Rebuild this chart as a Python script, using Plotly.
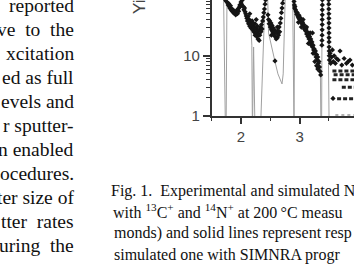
import plotly.graph_objects as go

W, H = 354, 265

# ---------------- data ----------------
exp_energy = [
    1.60, 1.66, 1.70, 1.73, 1.75, 1.77, 1.78, 1.79, 1.80, 1.81, 1.82, 1.83, 1.84, 1.85, 1.86,
    1.87, 1.88, 1.89, 1.90, 1.91, 1.92, 1.93, 1.94, 1.95, 1.96, 1.97, 1.98, 1.99, 2.00, 2.01,
    2.02, 2.04, 2.05, 2.06, 2.07, 2.08, 2.09,
    2.10, 2.11, 2.12, 2.13, 2.14, 2.15, 2.16, 2.17, 2.18, 2.19, 2.20, 2.21, 2.22, 2.23, 2.24,
    2.25, 2.26, 2.27, 2.28, 2.29, 2.30, 2.31, 2.32, 2.33, 2.34, 2.35, 2.36, 2.37, 2.38, 2.39,
    2.40, 2.41, 2.42, 2.15, 2.20, 2.24, 2.28, 2.31, 2.26,
    2.46, 2.47, 2.48, 2.49, 2.50, 2.51, 2.52, 2.53, 2.54, 2.55, 2.56, 2.57, 2.58, 2.59, 2.60,
    2.61, 2.62, 2.63, 2.64, 2.65, 2.66, 2.67, 2.68, 2.69, 2.70, 2.71, 2.72, 2.58, 2.52, 2.62,
    2.90, 2.905, 2.91, 2.915, 2.92, 2.93, 2.94, 2.95, 2.96, 2.97, 2.98, 2.99, 3.00, 3.01, 3.02,
    3.03, 3.04, 3.05, 3.06, 3.07, 3.08, 3.09, 3.10, 3.11, 3.12, 3.13, 3.14, 3.15, 3.16, 3.17,
    3.18, 3.19, 3.20, 3.21, 3.22, 3.23, 3.24, 3.25, 3.26, 3.27, 3.28, 3.29, 3.30, 3.31, 3.32,
    3.33, 3.34, 3.35, 3.36, 2.98, 3.03, 3.06, 3.12, 3.15, 3.18, 3.22, 3.23, 3.26, 3.29, 3.31,
    3.380, 3.382, 3.384, 3.385, 3.386, 3.386, 3.387, 3.387, 3.388, 3.388,
    3.497, 3.498, 3.499, 3.500, 3.500, 3.501, 3.501, 3.502, 3.502, 3.503, 3.504, 3.505, 3.506, 3.508,
    3.52, 3.53, 3.545, 3.56, 3.575, 3.59, 3.61, 3.63, 3.66, 3.69, 3.72, 3.76, 3.80, 3.83, 3.86, 3.90,
    3.57,
]
exp_yield = [
    110, 100, 92, 86, 80, 76, 70, 74, 66, 62, 68, 58, 61, 55, 58,
    52, 56, 50, 54, 48, 52, 57, 50, 60, 55, 64, 70, 66, 78, 72,
    84, 66, 58, 62, 54, 50, 46,
    42, 38, 45, 34, 40, 31, 36, 29, 33, 38, 27, 31, 25, 29, 34,
    24, 28, 21, 26, 19, 23, 27, 22, 30, 25, 33, 28, 38, 44, 52,
    60, 72, 85, 50, 35, 22, 31, 18, 40,
    48, 40, 34, 38, 30, 35, 27, 32, 25, 29, 23, 27, 21, 25, 19,
    24, 20, 26, 22, 30, 25, 35, 42, 52, 62, 75, 88, 8.2, 22, 30,
    95, 80, 70, 62, 66, 58, 54, 49, 52, 46, 43, 47, 40, 43, 37,
    39, 34, 36, 31, 33, 28, 30, 26, 28, 23, 25, 21, 23, 19, 21,
    17, 19, 15, 17, 14, 15, 12.5, 13, 11, 12, 9.5, 10.5, 8.5, 9.5, 7.5,
    8, 6.5, 5.5, 4.8, 36, 30, 40, 30, 16, 24, 24, 11, 8, 6.8, 6,
    15, 18, 22, 27, 33, 40, 48, 58, 70, 85,
    85, 72, 60, 50, 42, 35, 29, 24, 20, 17, 14, 12, 10, 8.5,
    11, 7.5, 9.5, 12.5, 8, 10, 7.5, 9, 8.5, 12, 7, 9, 7.5, 8, 8.5, 7,
    1.95,
]

sim_energy = [1.50, 1.70, 1.735, 1.745, 1.76, 1.80, 1.88, 1.95, 2.00, 2.03, 2.07, 2.12, 2.17,
              2.185, 2.195, 2.215, 2.24, 2.33, 2.41, 2.44, 2.45, 2.47, 2.52, 2.58, 2.63, 2.68,
              2.70, 2.72, 2.74, 2.76, 2.88, 2.895, 2.905, 2.915, 2.95, 3.00, 3.10, 3.20, 3.30,
              3.355, 3.365, 3.375, 3.385, 3.48, 3.505, 3.95]
sim_yield = [150, 150, 0.5, 0.5, 80, 66, 53, 55, 75, 70, 52, 36, 30,
             15, 0.5, 14, 0.5, 0.5, 90, 150, 150, 24, 14, 8, 5, 3.6,
             3.4, 5, 20, 150, 150, 0.5, 0.5, 70, 50, 40, 25, 16, 9,
             5, 0.5, 0.5, 150, 150, 0.5, 0.5]

row_yield = [5.6, 4.85, 4.0, 3.0, 1.92]
row_start = [3.56, 3.58, 3.56, 3.72, 3.64]
row_end = 3.95
base_row_yield = 1.03
base_row_start = 3.61

x_tick_vals = [2, 3]
x_tick_text = ["2", "3"]
x_minor_vals = [1.5, 2.5, 3.5]
y_tick_vals = [1, 10]
y_tick_text = ["1", "10"]
y_minor_vals = [2, 3, 4, 5, 6, 7, 8, 9, 20, 30, 40, 50, 60, 70, 80, 90]
y_title = "Yield"
y_top_label = "100"

EN = "\u2002"
body_lines = ["reported", "ve" + EN + "to" + EN + "the", "xcitation", "ed as full", "evels and",
              "r sputter-", "n enabled", "ocedures.", "ter size of", "tter" + EN + "rates",
              "uring" + EN + "the"]
caption_lines = [
    "Fig. 1.\u00a0 Experimental and simulated N",
    "with <sup>13</sup>C<sup>+</sup> and <sup>14</sup>N<sup>+</sup> at 200\u2009°C measu",
    "monds) and solid lines represent resp",
    "simulated one with SIMNRA progr",
]

# ---------------- layout geometry (pixels) ----------------
ax_left_px = 211.7
ax_bottom_px = 119.5
px_per_unit = 58.6
px_per_decade = 62.0
x0 = 1.5
x1 = x0 + (W - ax_left_px) / px_per_unit
ytop_log = ax_bottom_px / px_per_decade


def pxx(px):
    return px / W


def pxy(py):
    return 1 - py / H


fig = go.Figure()

fig.add_trace(go.Scatter(x=sim_energy, y=sim_yield, mode="lines",
                         line=dict(color="#a0a0a0", width=1), hoverinfo="skip"))

for ry, rs in zip(row_yield, row_start):
    fig.add_trace(go.Scatter(x=[rs, row_end], y=[ry, ry], mode="lines",
                             line=dict(color="#222222", width=3, dash="4px,2px"), hoverinfo="skip"))
fig.add_trace(go.Scatter(x=[base_row_start, row_end], y=[base_row_yield, base_row_yield], mode="lines",
                         line=dict(color="#999999", width=1.5, dash="dot"), hoverinfo="skip"))

fig.add_trace(go.Scatter(x=exp_energy, y=exp_yield, mode="markers",
                         marker=dict(symbol="diamond", size=4, color="#151515", line=dict(width=0))))

axis_font = dict(family="Liberation Sans, Arial, sans-serif", size=15, color="#444444")

fig.update_layout(
    width=W, height=H, margin=dict(l=0, r=0, t=0, b=0),
    paper_bgcolor="white", plot_bgcolor="white", showlegend=False,
    xaxis=dict(domain=[pxx(ax_left_px), 1], range=[x0, x1], showgrid=False, zeroline=False,
               showline=True, linecolor="#333333", linewidth=1.5,
               tickmode="array", tickvals=x_tick_vals, ticktext=x_tick_text,
               ticks="outside", ticklen=6, tickwidth=1.5, tickcolor="#333333",
               tickfont=axis_font,
               minor=dict(tickmode="array", tickvals=x_minor_vals, ticks="outside",
                          ticklen=3, tickwidth=1.2, tickcolor="#333333")),
    yaxis=dict(domain=[pxy(ax_bottom_px), 1], type="log", range=[0, ytop_log],
               showgrid=False, zeroline=False,
               showline=True, linecolor="#333333", linewidth=1.5,
               tickmode="array", tickvals=y_tick_vals, ticktext=y_tick_text,
               ticks="outside", ticklen=7, tickwidth=1.5, tickcolor="#333333",
               tickfont=axis_font,
               minor=dict(tickmode="array", tickvals=y_minor_vals, ticks="outside",
                          ticklen=4, tickwidth=1, tickcolor="#333333")),
)

anns = []
anns.append(dict(text=y_title, xref="paper", yref="paper", x=pxx(140), y=pxy(17),
                 xanchor="center", yanchor="bottom", textangle=-90, showarrow=False,
                 font=dict(family="Liberation Sans, Arial, sans-serif", size=17, color="#444444")))
anns.append(dict(text=y_top_label, xref="paper", yref="paper", x=pxx(202), y=pxy(-6),
                 xanchor="right", yanchor="middle", showarrow=False, font=axis_font))

serif = "Liberation Serif, Times New Roman, serif"
bs = 19.5
for i, t in enumerate(body_lines):
    base = 13.5 + 24.75 * i
    anns.append(dict(text=t, xref="paper", yref="paper", x=pxx(75), y=pxy(base + 0.216 * bs),
                     xanchor="right", yanchor="bottom", showarrow=False, borderpad=0,
                     font=dict(family=serif, size=bs, color="#111111")))

cs = 16
for i, t in enumerate(caption_lines):
    base = 203.3 + 22 * i
    left = [110, 112, 113, 113][i]
    anns.append(dict(text=t, xref="paper", yref="paper", x=pxx(left), y=pxy(base + 0.216 * cs),
                     xanchor="left", yanchor="bottom", showarrow=False, borderpad=0,
                     font=dict(family=serif, size=cs, color="#111111")))

fig.update_layout(annotations=anns)
fig.write_html("out.html")
